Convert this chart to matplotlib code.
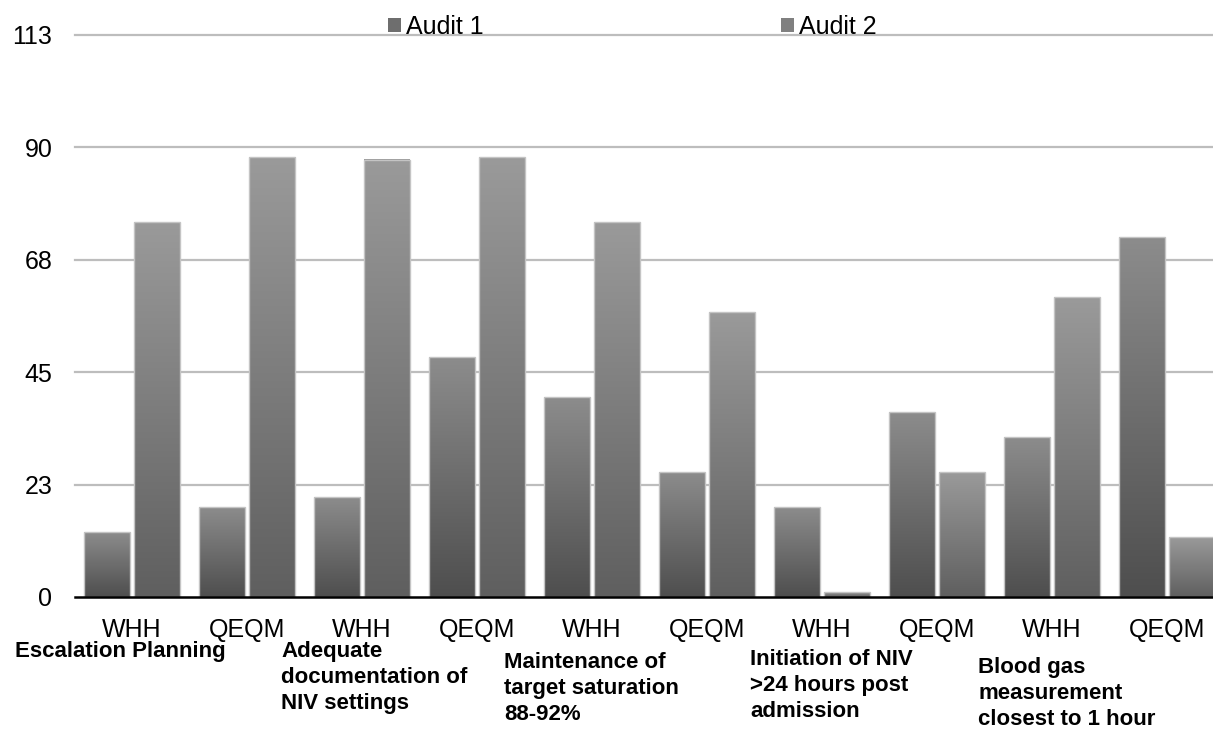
import matplotlib.pyplot as plt #Para graficar
import numpy as np #Para arreglos
from matplotlib.colors import LinearSegmentedColormap #Para los degradados
from matplotlib.patches import Patch #Para la leyenda

plt.rcParams["font.family"] = ["Liberation Sans", "DejaVu Sans"] #Fuente parecida a Arial

#Datos del grafico
sitios = ["WHH", "QEQM"] * 5
auditoria_1 = [13, 18, 20, 48, 40, 25, 18, 37, 32, 72]
auditoria_2 = [75, 88, 87.5, 88, 75, 57, 1, 25, 60, 12]
criterios = ["Escalation Planning",
             "Adequate\ndocumentation of\nNIV settings",
             "Maintenance of\ntarget saturation\n88-92%",
             "Initiation of NIV\n>24 hours post\nadmission",
             "Blood gas\nmeasurement\nclosest to 1 hour"]
ticks_y = [0, 22.5, 45, 67.5, 90, 112.5]
etiquetas_y = ["0", "23", "45", "68", "90", "113"]

W, H = 1213, 731
fig = plt.figure(figsize=(W / 100, H / 100), dpi=100)
ax = fig.add_axes([74.5 / W, 134 / H, 1150 / W, 562 / H]) #El area pasa el borde derecho como en el original

cmap_1 = LinearSegmentedColormap.from_list("a1", ["#4e4e4e", "#8c8c8c"])
cmap_2 = LinearSegmentedColormap.from_list("a2", ["#5f5f5f", "#9a9a9a"])
gradiente = np.linspace(0, 1, 256).reshape(-1, 1)

x = np.arange(len(sitios))
ancho = 0.4
desp = 0.217

def barras_degradado(posiciones, valores, cmap): #Barras con degradado vertical
    barras = ax.bar(posiciones, valores, width=ancho, color="none",
                    edgecolor="#c4c4c4", linewidth=1, zorder=4)
    for b in barras:
        x0, y0 = b.get_x(), b.get_y()
        ax.imshow(gradiente, extent=[x0, x0 + b.get_width(), y0, y0 + b.get_height()],
                  origin="lower", aspect="auto", cmap=cmap, zorder=3)

barras_degradado(x - desp, auditoria_1, cmap_1)
barras_degradado(x + desp, auditoria_2, cmap_2)

ax.set_xlim(-0.5, len(sitios) - 0.5)
ax.set_ylim(0, 112.5)

for t in ticks_y[1:]: #Lineas de la cuadricula
    ax.axhline(t, color="#bdbdbd", linewidth=1.6, zorder=1, clip_on=False)

ax.set_yticks(ticks_y)
ax.set_yticklabels(etiquetas_y)
ax.set_xticks(x)
ax.set_xticklabels(sitios)
ax.tick_params(axis="both", length=0, labelsize=18)
ax.tick_params(axis="y", pad=16)
ax.tick_params(axis="x", pad=15)

for s in ["top", "right", "left"]:
    ax.spines[s].set_visible(False)
ax.spines["bottom"].set_color("black")
ax.spines["bottom"].set_linewidth(1.8)
ax.spines["bottom"].set_zorder(5)

#Etiquetas de los criterios (posiciones en pixeles)
pos_criterios = [(15, 641), (281, 641), (504, 652), (750, 649), (978, 657)]
for texto, (px, py) in zip(criterios, pos_criterios):
    fig.text(px / W, 1 - py / H, texto, ha="left", va="top",
             fontsize=16, fontweight="bold", linespacing=1.32)

manijas = [Patch(facecolor="#6e6e6e"), Patch(facecolor="#808080")]
fig.legend(manijas, ["Audit 1", "Audit 2"], ncol=2, loc="center",
           bbox_to_anchor=(632.5 / W, 1 - 27 / H), frameon=False, fontsize=18,
           handlelength=0.52, handleheight=0.52, handletextpad=0.2,
           columnspacing=11.9, borderpad=0)

fig.savefig("out.png", dpi=100)
